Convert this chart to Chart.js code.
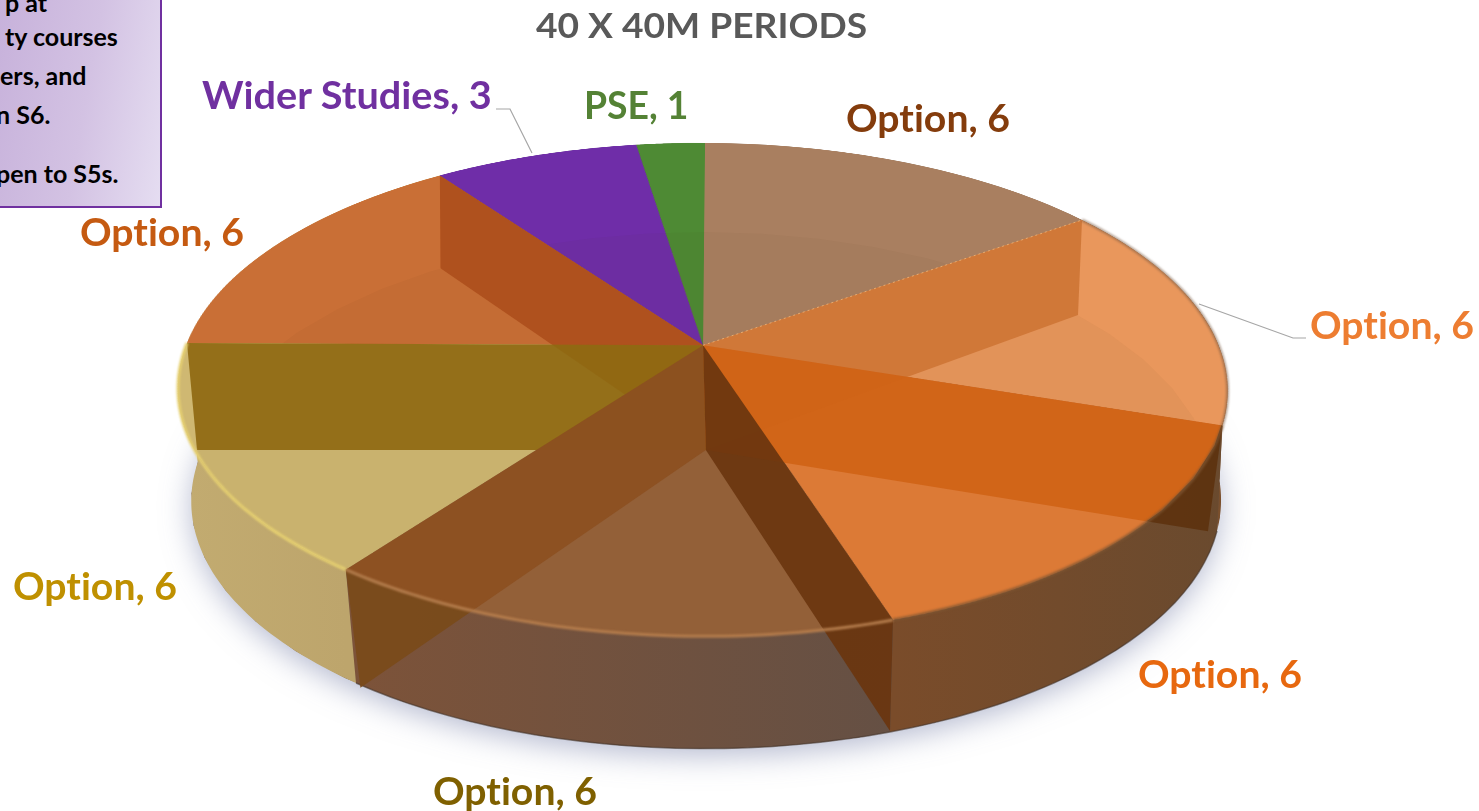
<!DOCTYPE html>
<html>
<head>
<meta charset="utf-8">
<script src="https://cdn.jsdelivr.net/npm/chart.js@4"></script>
<style>
    html, body { margin: 0; padding: 0; background: #fff; width: 1479px; height: 811px; overflow: hidden; }
    canvas { position: absolute; left: 0; top: 0; }
    #pieChart { transform-origin: 0 0; }
    .txt { position: absolute; font-family: Lato, sans-serif; font-weight: 700; white-space: nowrap; transform-origin: 0 50%; font-variant-ligatures: none; }
    #note {
        position: absolute; left: -10px; top: -10px; width: 172px; height: 218px; box-sizing: border-box;
        border: 2px solid #7030a0;
        background: linear-gradient(100deg, #c6b0da 0%, #d3c2e3 55%, #e5ddf1 100%);
    }
</style>
</head>
<body>
<canvas id="under" width="1479" height="811"></canvas>
<canvas id="pieChart" width="1100" height="1100"></canvas>
<canvas id="over" width="1479" height="811"></canvas>
<div id="note"></div>

<script>
const chartTitle = '40 X 40M PERIODS';
const categories = ['Option', 'Option', 'Option', 'Option', 'Option', 'Option', 'Wider Studies', 'PSE'];
const periods = [6, 6, 6, 6, 6, 6, 3, 1];
const noteLines = ['p at', 'ty courses', 'ers, and', 'n S6.', 'pen to S5s.'];

// colours per slice
const topColors = ['#a97f60', '#e9975c', '#e27d38', '#96623a', '#cfb872', '#c96f36', '#6f2da8', '#4e8a34'];
const rimColors = [['#8a6a50', '#8a6a50'], ['#7a5a40', '#7a4f2c'], ['#6a4a2e', '#7a4c2a'], ['#655044', '#7d5339'], ['#bda56c', '#c2ab70'], ['#c8ae6c', '#c8ae6c'], ['#5a2a88', '#5a2a88'], ['#3f7028', '#3f7028']];
const edgeColors = [null, 'rgba(120,90,65,0.55)', 'rgba(125,85,50,0.8)', '#b47c4c', '#e6d071', null, null, null];
const wallColors = [['#ce7536', null], ['#d06316', '#5e330f'], ['#6a360f', '#6a360f'], ['#8c5020', '#7a4a1a'], ['#8f6912', '#8f6912'], ['#ad4f1c', null], null, null];
const wallInset = [1, 1, 1, 1.012, 1, 1];
const labelColors = ['#843c0c', '#ed7d31', '#e7680f', '#7f6000', '#bf9000', '#c55a11', '#7030a0', '#548235'];

// where the labels sit: [left, middle y, width]
const labelSpots = [[846, 117, 164], [1310, 324, 164], [1138, 673, 164], [433, 790, 164], [13, 585, 164], [80, 231, 164], [202, 94, 290], [584, 104, 104]];
// right end and middle y of the note lines, the box runs off the page on the left
const noteSpots = [[47, 2], [118, 36], [87, 75], [50, 114], [119, 173]];

// camera: screen position of four rim angles (degrees clockwise from 12 o'clock)
const topAngles = [0, 54, 162, 270];
const topCamera = [[705, 143], [1082, 220], [893, 620], [187, 343]];
const floorCamera = [[705, 232], [1078, 315], [890, 731], [197, 450]];
const sideAngles = [108, 162, 216, 250];
const sideCamera = [[1217, 531], [890, 732], [356, 683], [200, 547]];

function solve(a, b) {
    let n = b.length;
    for (let i = 0; i < n; i++) {
        let p = i;
        for (let r = i + 1; r < n; r++) if (Math.abs(a[r][i]) > Math.abs(a[p][i])) p = r;
        [a[i], a[p]] = [a[p], a[i]];
        [b[i], b[p]] = [b[p], b[i]];
        for (let r = i + 1; r < n; r++) {
            let f = a[r][i] / a[i][i];
            for (let c = i; c < n; c++) a[r][c] -= f * a[i][c];
            b[r] -= f * b[i];
        }
    }
    let x = new Array(n).fill(0);
    for (let i = n - 1; i >= 0; i--) {
        let s = b[i];
        for (let c = i + 1; c < n; c++) s -= a[i][c] * x[c];
        x[i] = s / a[i][i];
    }
    return x;
}

function homography(from, to) {
    let a = [], b = [];
    from.forEach((p, i) => {
        let [x, y] = p, [u, v] = to[i];
        a.push([x, y, 1, 0, 0, 0, -u * x, -u * y]); b.push(u);
        a.push([0, 0, 0, x, y, 1, -v * x, -v * y]); b.push(v);
    });
    return solve(a, b);
}

function apply(h, x, y) {
    let w = h[6] * x + h[7] * y + 1;
    return [(h[0] * x + h[1] * y + h[2]) / w, (h[3] * x + h[4] * y + h[5]) / w];
}

let size = 1100, mid = size / 2;
function rimSource(d) {
    let a = (d - 90) * Math.PI / 180;
    return [mid + mid * Math.cos(a), mid + mid * Math.sin(a)];
}
let hTop = homography(topAngles.map(rimSource), topCamera);
let hFloor = homography(topAngles.map(rimSource), floorCamera);
let hSide = homography(sideAngles.map(rimSource), sideCamera);

document.getElementById('pieChart').style.transform =
    `matrix3d(${hTop[0]},${hTop[3]},0,${hTop[6]},${hTop[1]},${hTop[4]},0,${hTop[7]},0,0,1,0,${hTop[2]},${hTop[5]},0,1)`;

function rimPoints(h, arc, a0, a1, inset) {
    let pts = [], r = arc.outerRadius * (inset || 1);
    for (let i = 0; i <= 48; i++) {
        let a = a0 + (a1 - a0) * i / 48;
        pts.push(apply(h, arc.x + r * Math.cos(a), arc.y + r * Math.sin(a)));
    }
    return pts;
}

function trace(ctx, pts) {
    pts.forEach((p, i) => i ? ctx.lineTo(p[0], p[1]) : ctx.moveTo(p[0], p[1]));
}

// side of the drum, below the pie canvas
function drawUnder(arcs) {
    let ctx = document.getElementById('under').getContext('2d');
    let a0 = arcs[0].startAngle;
    ctx.save();
    ctx.shadowColor = 'rgba(105,115,160,0.5)';
    ctx.shadowBlur = 30;
    ctx.shadowOffsetY = 7;
    ctx.fillStyle = '#6b5040';
    ctx.beginPath();
    trace(ctx, rimPoints(hSide, arcs[0], a0, a0 + Math.PI * 2));
    ctx.fill();
    ctx.restore();

    arcs.forEach((arc, i) => {
        let t = rimPoints(hTop, arc, arc.startAngle, arc.endAngle);
        let b = rimPoints(hSide, arc, arc.startAngle, arc.endAngle);
        let g = ctx.createLinearGradient(t[0][0], 0, t[48][0], 0);
        g.addColorStop(0, rimColors[i][0]);
        g.addColorStop(1, rimColors[i][1]);
        ctx.fillStyle = g;
        ctx.beginPath();
        trace(ctx, t.concat(b.slice().reverse()));
        ctx.closePath();
        ctx.fill();
    });

    ctx.strokeStyle = 'rgba(70,55,45,0.6)';
    ctx.lineWidth = 1.5;
    ctx.beginPath();
    trace(ctx, rimPoints(hSide, arcs[1], Math.PI * 0.1, Math.PI * 0.7));
    ctx.stroke();
}

// walls between slices, rim highlights and leader lines, above the pie canvas
function drawOver(arcs) {
    let ctx = document.getElementById('over').getContext('2d');
    let a0 = arcs[0].startAngle;
    let topRing = rimPoints(hTop, arcs[0], a0, a0 + Math.PI * 2);
    let floorRing = rimPoints(hFloor, arcs[0], a0, a0 + Math.PI * 2);

    // floor of the drum showing faintly through the top
    ctx.save();
    ctx.beginPath();
    trace(ctx, topRing);
    ctx.clip();
    ctx.fillStyle = 'rgba(80,50,30,0.04)';
    ctx.beginPath();
    trace(ctx, floorRing);
    ctx.fill();
    ctx.restore();

    let hub = apply(hTop, arcs[0].x, arcs[0].y);
    let hubLow = apply(hFloor, arcs[0].x, arcs[0].y);
    let order = [5, 0, 4, 1, 3, 2];
    order.forEach(i => {
        let arc = arcs[i], colors = wallColors[i];
        let a = arc.endAngle;
        let top = rimPoints(hTop, arc, a, a)[0];
        let low = rimPoints(hFloor, arc, a, a, wallInset[i])[0];
        let wall = () => {
            ctx.beginPath();
            trace(ctx, [hub, top, low, hubLow]);
            ctx.closePath();
        };
        ctx.globalAlpha = 0.93;
        ctx.save();
        ctx.beginPath();
        trace(ctx, topRing);
        ctx.clip();
        ctx.fillStyle = colors[0];
        wall();
        ctx.fill();
        ctx.restore();
        if (colors[1]) {
            ctx.save();
            ctx.beginPath();
            ctx.rect(0, 0, 1479, 811);
            trace(ctx, topRing);
            ctx.clip('evenodd');
            ctx.fillStyle = colors[1];
            wall();
            ctx.fill();
            ctx.restore();
        }
        ctx.globalAlpha = 1;
    });

    // dotted seam along the first wall
    let seam = rimPoints(hTop, arcs[0], arcs[0].endAngle, arcs[0].endAngle)[0];
    ctx.save();
    ctx.strokeStyle = 'rgba(240,185,125,0.75)';
    ctx.lineWidth = 1;
    ctx.setLineDash([2, 3]);
    ctx.beginPath();
    trace(ctx, [hub, seam]);
    ctx.stroke();
    ctx.restore();

    // soft highlight along the top edge of the rim
    ctx.save();
    ctx.filter = 'blur(1px)';
    ctx.lineWidth = 3;
    arcs.forEach((arc, i) => {
        if (!edgeColors[i]) return;
        ctx.strokeStyle = edgeColors[i];
        ctx.beginPath();
        trace(ctx, rimPoints(hTop, arc, arc.startAngle, arc.endAngle));
        ctx.stroke();
    });
    ctx.restore();

    // leader lines
    ctx.strokeStyle = '#a6a6a6';
    ctx.lineWidth = 1.2;
    ctx.beginPath();
    trace(ctx, [[496, 109], [510, 109], [532, 153]]);
    ctx.stroke();
    ctx.beginPath();
    trace(ctx, [[1199, 304], [1293, 338], [1306, 338]]);
    ctx.stroke();
}

const drumPlugin = {
    id: 'drum',
    afterDraw(chart) {
        let arcs = chart.getDatasetMeta(0).data.map(a => a.getProps(['x', 'y', 'startAngle', 'endAngle', 'outerRadius'], true));
        drawUnder(arcs);
        drawOver(arcs);
    }
};

new Chart(document.getElementById('pieChart').getContext('2d'), {
    type: 'pie',
    data: {
        labels: categories,
        datasets: [{
            data: periods,
            backgroundColor: topColors,
            borderWidth: 0
        }]
    },
    options: {
        responsive: false,
        animation: false,
        layout: { padding: 0 },
        plugins: { legend: { display: false }, tooltip: { enabled: false } }
    },
    plugins: [drumPlugin]
});

function addText(text, fontSize, color) {
    let el = document.createElement('div');
    el.className = 'txt';
    el.textContent = text;
    el.style.fontSize = fontSize + 'px';
    el.style.lineHeight = fontSize + 'px';
    el.style.color = color;
    document.body.appendChild(el);
    return el;
}

// text fitted to the width it has in the picture
function place(text, spot, fontSize, color) {
    let el = addText(text, fontSize, color);
    el.style.left = spot[0] + 'px';
    el.style.top = (spot[1] - fontSize / 2) + 'px';
    el.style.transform = `scaleX(${spot[2] / el.offsetWidth})`;
}

place(chartTitle, [536, 25, 331], 34, '#595959');
categories.forEach((c, i) => place(c + ', ' + periods[i], labelSpots[i], 38, labelColors[i]));

noteLines.forEach((line, i) => {
    let el = addText(line, 25, '#000');
    el.style.left = (noteSpots[i][0] - el.offsetWidth) + 'px';
    el.style.top = (noteSpots[i][1] - 12.5) + 'px';
});
</script>
</body>
</html>
